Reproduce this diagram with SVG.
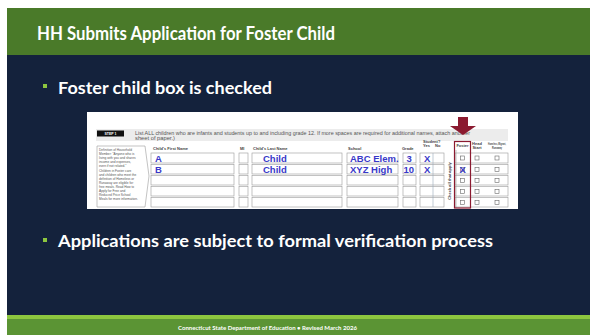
<svg xmlns="http://www.w3.org/2000/svg" width="590" height="335" viewBox="0 0 590 335">
<style>
.title{font-family:Lato,"Open Sans","Liberation Sans",sans-serif;font-weight:bold;fill:#fff}
.tiny{font-family:"Liberation Sans",Arial,sans-serif;fill:#555}
.hd{font-family:"Liberation Sans",Arial,sans-serif;font-size:4px;fill:#444;font-weight:bold}
.val{font-family:"Liberation Sans",Arial,sans-serif;font-weight:bold;fill:#3838c8;font-size:9.5px}
.box{fill:#fff;stroke:#9a9a9a;stroke-width:0.6}
.cb{fill:none;stroke:#666;stroke-width:0.6}
</style>
<rect width="590" height="335" fill="#fff"/>
<g id="slide">
<rect x="7" y="8" width="583" height="47" fill="#4a7a29"/>
<rect x="7" y="55" width="583" height="260" fill="#14223c"/>
<rect x="7" y="315" width="583" height="4" fill="#8dc63f"/>
<rect x="7" y="319" width="583" height="16" fill="#5b9434"/>
</g>
<g id="title"><text class="title" x="37" y="40" font-size="18" textLength="298" lengthAdjust="spacingAndGlyphs">HH Submits Application for Foster Child</text></g>
<g id="bullet1">
<rect x="43" y="84" width="4" height="4" fill="#8dc63f"/>
<text class="title" x="58" y="94" font-size="17" textLength="214" lengthAdjust="spacingAndGlyphs">Foster child box is checked</text>
</g>
<g id="bullet2">
<rect x="43" y="238" width="4" height="4" fill="#8dc63f"/>
<text class="title" x="58" y="247" font-size="17" textLength="435" lengthAdjust="spacingAndGlyphs">Applications are subject to formal verification process</text>
</g>
<g id="form">
<rect x="87" y="112" width="431" height="97" fill="#fff"/>
<rect x="96" y="129" width="412" height="12" fill="#ececec"/>
<rect x="97" y="130.5" width="27" height="6" fill="#111"/>
<text x="110.5" y="135" font-family="Liberation Sans,Arial,sans-serif" font-size="3.5" font-weight="bold" fill="#fff" text-anchor="middle">STEP 1</text>
<text class="tiny" x="135" y="134.5" font-size="4.5" textLength="335" lengthAdjust="spacingAndGlyphs">List ALL children who are infants and students up to and including grade 12. If more spaces are required for additional names, attach another</text>
<text class="tiny" x="135" y="139.5" font-size="4.5" textLength="40" lengthAdjust="spacingAndGlyphs">sheet of paper.)</text>
<path d="M97 146 H145 L149 176 L145 207 H97 Z" fill="#fff" stroke="#9a9a9a" stroke-width="0.6"/>
<g class="tiny" font-size="3.2">
<text x="99" y="151">Definition of Household</text>
<text x="99" y="155">Member: "Anyone who is</text>
<text x="99" y="159">living with you and shares</text>
<text x="99" y="163">income and expenses,</text>
<text x="99" y="167">even if not related."</text>
<text x="99" y="172">Children in Foster care</text>
<text x="99" y="176">and children who meet the</text>
<text x="99" y="180">definition of Homeless or</text>
<text x="99" y="184">Runaway are eligible for</text>
<text x="99" y="188">free meals. Read How to</text>
<text x="99" y="192">Apply for Free and</text>
<text x="99" y="196">Reduced Price School</text>
<text x="99" y="200">Meals for more information.</text>
</g>
<text class="hd" x="153" y="150">Child's First Name</text>
<text class="hd" x="240" y="150">MI</text>
<text class="hd" x="253" y="150">Child's Last Name</text>
<text class="hd" x="348" y="150">School</text>
<text class="hd" x="402" y="150">Grade</text>
<text class="hd" x="423" y="142.5" font-size="3.5">Student?</text>
<text class="hd" x="423" y="147" font-size="3">Yes</text>
<text class="hd" x="435" y="147" font-size="3">No</text>
<text class="hd" x="462.5" y="147" font-size="3" text-anchor="middle">Foster</text>
<text class="hd" x="477" y="145" font-size="2.8" text-anchor="middle">Head</text>
<text class="hd" x="477" y="148.5" font-size="2.8" text-anchor="middle">Start</text>
<text class="hd" x="488" y="145" font-size="2.6" textLength="18" lengthAdjust="spacingAndGlyphs">Homeless, Migrant,</text>
<text class="hd" x="492" y="148.5" font-size="2.6" textLength="10" lengthAdjust="spacingAndGlyphs">Runaway</text>
<text class="hd" font-size="3.3" transform="translate(451,181) rotate(-90)" text-anchor="middle">Check all that apply</text>
<g id="rows">
<rect class="box" x="151" y="153" width="83" height="10"/>
<rect class="box" x="151" y="164.5" width="83" height="9.5"/>
<rect class="box" x="151" y="175.5" width="83" height="9.5"/>
<rect class="box" x="151" y="186.5" width="83" height="9.5"/>
<rect class="box" x="151" y="197.5" width="83" height="9.5"/>
<rect class="box" x="239" y="153" width="9" height="10"/>
<rect class="box" x="239" y="164.5" width="9" height="9.5"/>
<rect class="box" x="239" y="175.5" width="9" height="9.5"/>
<rect class="box" x="239" y="186.5" width="9" height="9.5"/>
<rect class="box" x="239" y="197.5" width="9" height="9.5"/>
<rect class="box" x="252" y="153" width="90" height="10"/>
<rect class="box" x="252" y="164.5" width="90" height="9.5"/>
<rect class="box" x="252" y="175.5" width="90" height="9.5"/>
<rect class="box" x="252" y="186.5" width="90" height="9.5"/>
<rect class="box" x="252" y="197.5" width="90" height="9.5"/>
<rect class="box" x="347" y="153" width="51" height="10"/>
<rect class="box" x="347" y="164.5" width="51" height="9.5"/>
<rect class="box" x="347" y="175.5" width="51" height="9.5"/>
<rect class="box" x="347" y="186.5" width="51" height="9.5"/>
<rect class="box" x="347" y="197.5" width="51" height="9.5"/>
<rect class="box" x="403" y="153" width="13" height="10"/>
<rect class="box" x="403" y="164.5" width="13" height="9.5"/>
<rect class="box" x="403" y="175.5" width="13" height="9.5"/>
<rect class="box" x="403" y="186.5" width="13" height="9.5"/>
<rect class="box" x="403" y="197.5" width="13" height="9.5"/>
<rect class="box" x="420" y="153" width="24" height="10"/>
<rect class="box" x="420" y="164.5" width="24" height="9.5"/>
<rect class="box" x="420" y="175.5" width="24" height="9.5"/>
<rect class="box" x="420" y="186.5" width="24" height="9.5"/>
<rect class="box" x="420" y="197.5" width="24" height="9.5"/>
<line x1="433" y1="153" x2="433" y2="207" stroke="#9ab" stroke-width="0.6"/>
<rect class="box" x="455" y="153" width="53" height="10"/>
<rect class="box" x="455" y="164.5" width="53" height="9.5"/>
<rect class="box" x="455" y="175.5" width="53" height="9.5"/>
<rect class="box" x="455" y="186.5" width="53" height="9.5"/>
<rect class="box" x="455" y="197.5" width="53" height="9.5"/>
<line x1="456" y1="150" x2="456" y2="208" stroke="#9a9a9a" stroke-width="0.6"/>
</g>
<g id="checkboxes">
<rect class="cb" x="460.5" y="156" width="4" height="4"/><rect class="cb" x="475" y="156" width="4" height="4"/><rect class="cb" x="495" y="156" width="4" height="4"/>
<rect class="cb" x="460.5" y="167.5" width="4" height="4"/><rect class="cb" x="475" y="167.5" width="4" height="4"/><rect class="cb" x="495" y="167.5" width="4" height="4"/>
<rect class="cb" x="460.5" y="178.5" width="4" height="4"/><rect class="cb" x="475" y="178.5" width="4" height="4"/><rect class="cb" x="495" y="178.5" width="4" height="4"/>
<rect class="cb" x="460.5" y="189.5" width="4" height="4"/><rect class="cb" x="475" y="189.5" width="4" height="4"/><rect class="cb" x="495" y="189.5" width="4" height="4"/>
<rect class="cb" x="460.5" y="200.5" width="4" height="4"/><rect class="cb" x="475" y="200.5" width="4" height="4"/><rect class="cb" x="495" y="200.5" width="4" height="4"/>
</g>
<g id="values">
<text class="val" x="155" y="161.5">A</text>
<text class="val" x="155" y="172.5">B</text>
<text class="val" x="263" y="161.5">Child</text>
<text class="val" x="263" y="172.5">Child</text>
<text class="val" x="350" y="161.5">ABC Elem.</text>
<text class="val" x="350" y="172.5">XYZ High</text>
<text class="val" x="406.5" y="161.5">3</text>
<text class="val" x="403.5" y="172.5">10</text>
<text class="val" x="424" y="161.5">X</text>
<text class="val" x="424" y="172.5">X</text>
<text class="val" x="459.5" y="173" font-size="8.5">X</text>
</g>
<rect x="454.5" y="141.5" width="16" height="66.5" fill="none" stroke="#8b1a30" stroke-width="1.2"/>
<path d="M458 117 H468 V126 H476 L463 135 L450 126 H458 Z" fill="#8b1a30"/>
</g>
<g id="footer"><text x="178" y="330" font-family="Lato,'Open Sans','Liberation Sans',sans-serif" font-size="6" font-weight="bold" fill="#fff" textLength="179" lengthAdjust="spacingAndGlyphs">Connecticut State Department of Education • Revised March 2026</text></g>
</svg>
